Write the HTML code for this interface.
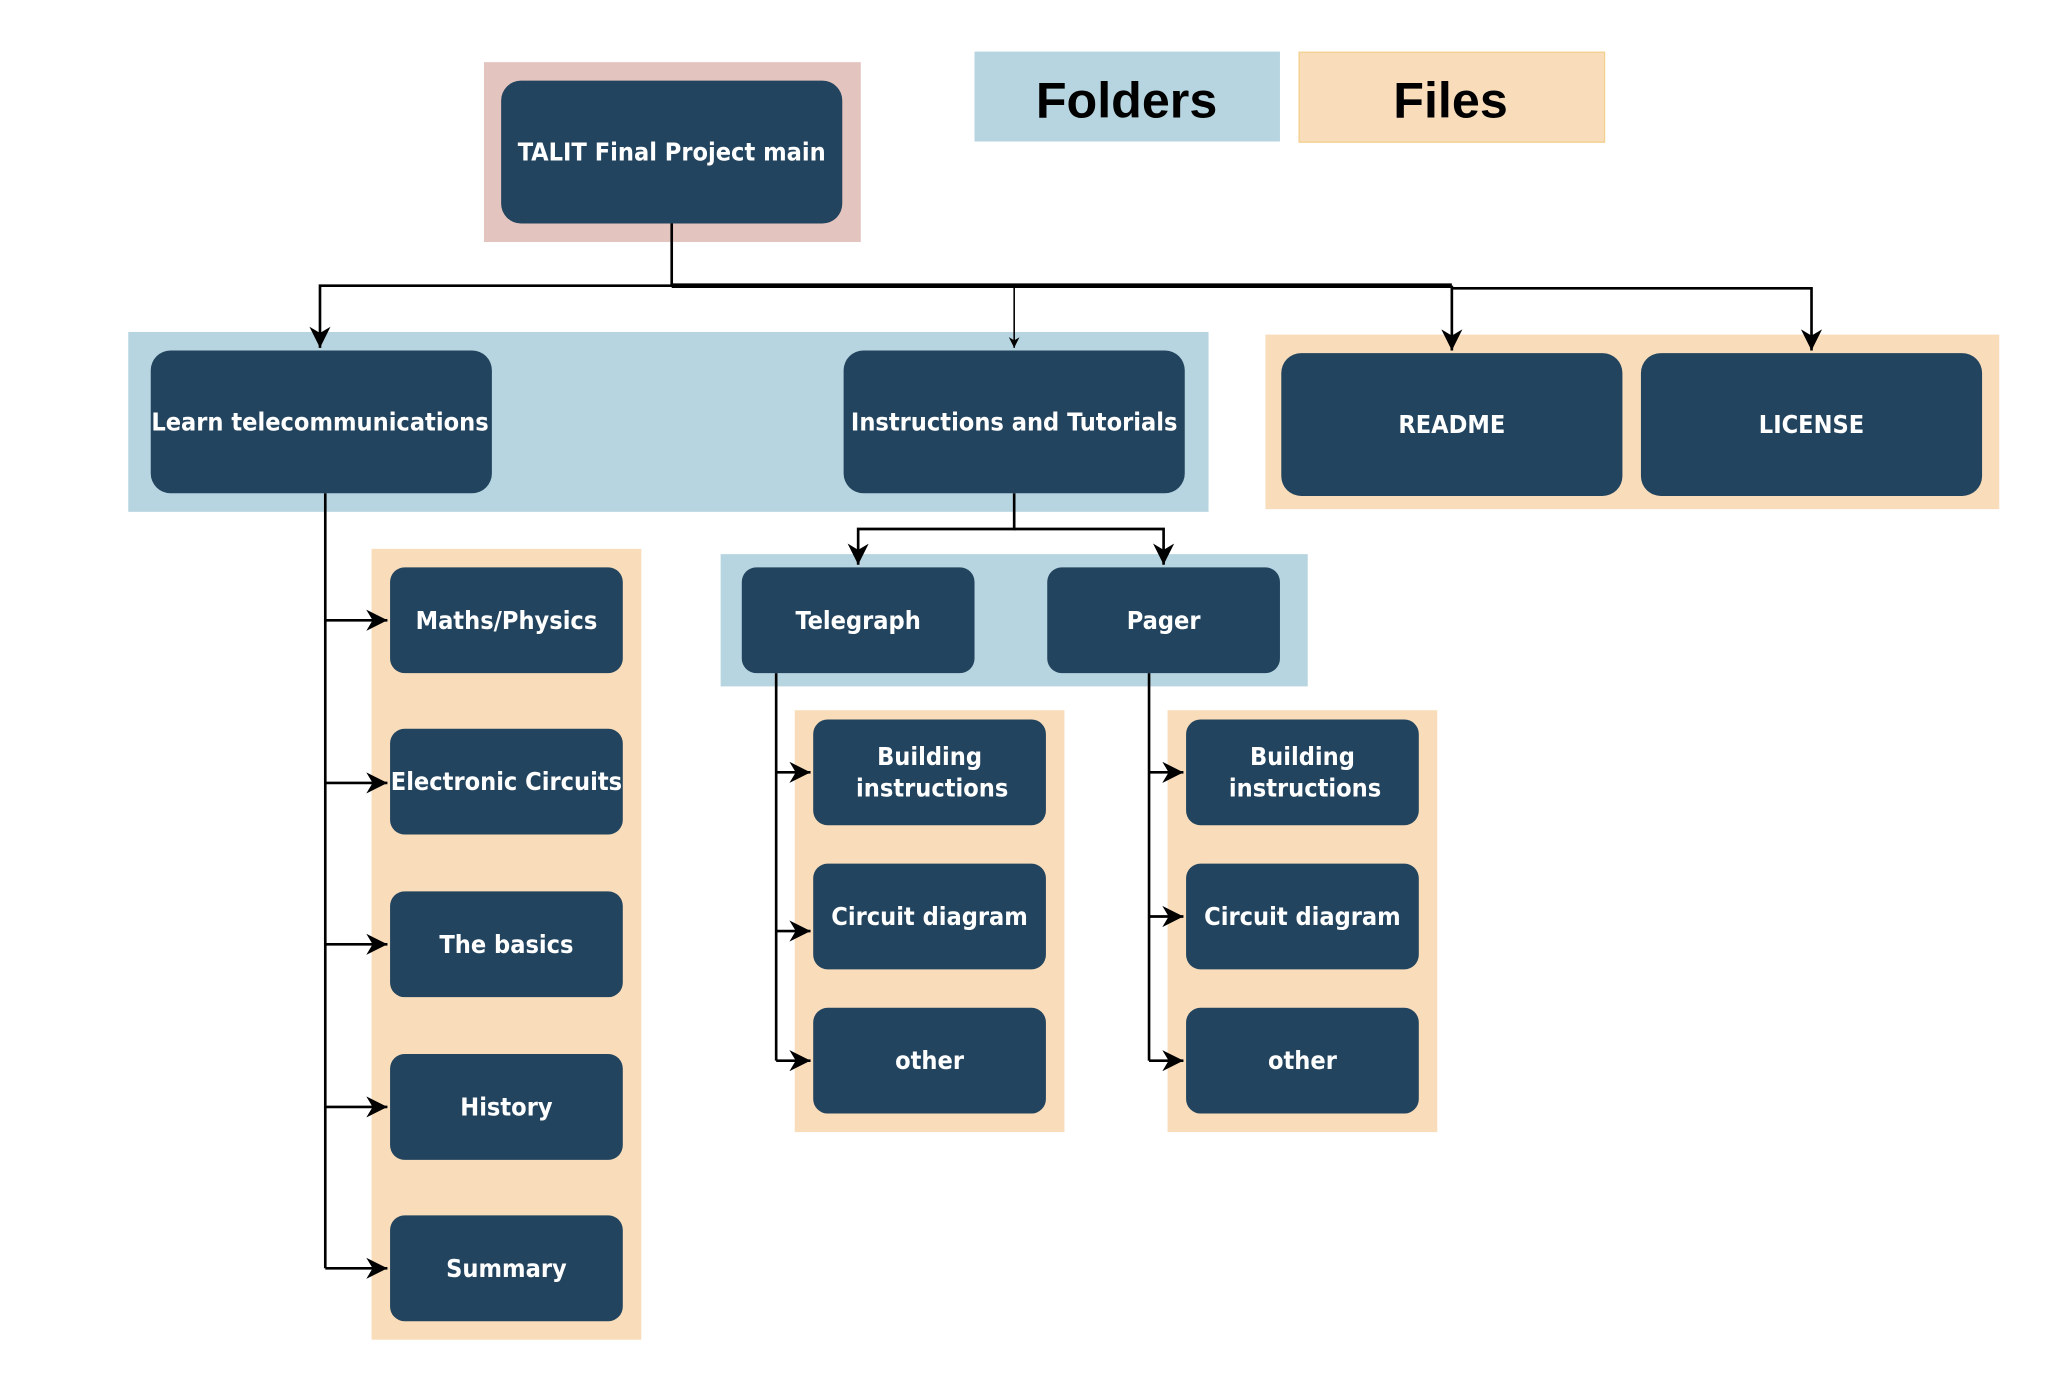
<!DOCTYPE html>
<html><head><meta charset="utf-8"><style>
html,body{margin:0;padding:0;background:#fff}
svg{display:block}
text{font-family:"DejaVu Sans Condensed","Liberation Sans",sans-serif;font-weight:bold;fill:#fff;font-size:19px;text-anchor:middle;dominant-baseline:central}
.lg{fill:#000;font-family:"Liberation Sans",sans-serif;font-size:38px}
</style></head><body>
<svg width="2072" height="1386" viewBox="0 0 1567 1048" preserveAspectRatio="none" xmlns="http://www.w3.org/2000/svg">
<defs>
<marker id="a" viewBox="0 0 10 10" refX="10" refY="5" markerWidth="8" markerHeight="8" orient="auto" markerUnits="userSpaceOnUse"><path d="M0,0 L10,5 L0,10 L3,5 z" fill="#000"/></marker>
<marker id="b" viewBox="0 0 10 10" refX="10" refY="5" markerWidth="16" markerHeight="16" orient="auto" markerUnits="userSpaceOnUse"><path d="M0,0 L10,5 L0,10 L3,5 z" fill="#000"/></marker>
</defs>
<rect x="366" y="47" width="285" height="136" fill="#e4c4bf"/>
<rect x="737" y="39" width="231" height="68" fill="#b7d5e0"/>
<rect x="982.5" y="39.5" width="231" height="68" fill="#f9ddbb" stroke="#f3d08e" stroke-width="1"/>
<text class="lg" x="852" y="76">Folders</text>
<text class="lg" x="1097" y="76">Files</text>
<rect x="97" y="251" width="817" height="136" fill="#b7d5e0"/>
<rect x="957" y="253" width="555" height="132" fill="#f9ddbb"/>
<rect x="281" y="415" width="204" height="598" fill="#f9ddbb"/>
<rect x="545" y="419" width="444" height="100" fill="#b7d5e0"/>
<rect x="601" y="537" width="204" height="319" fill="#f9ddbb"/>
<rect x="883" y="537" width="204" height="319" fill="#f9ddbb"/>
<g stroke="#000" fill="none" stroke-width="2">
<path d="M508,169 V216 H242 V263" marker-end="url(#b)"/>
<path d="M508,216 H1098" stroke-width="3.5"/>
<path d="M1098,216 V265" marker-end="url(#b)"/>
<path d="M1098,218 H1370 V265" marker-end="url(#b)"/>
<path d="M767,216 V263" stroke-width="1.2" marker-end="url(#a)"/>
<path d="M246,373 V959"/>
<path d="M246,469 H293" marker-end="url(#b)"/>
<path d="M246,592 H293" marker-end="url(#b)"/>
<path d="M246,714 H293" marker-end="url(#b)"/>
<path d="M246,837 H293" marker-end="url(#b)"/>
<path d="M246,959 H293" marker-end="url(#b)"/>
<path d="M767,373 V400 H649 V427" marker-end="url(#b)"/>
<path d="M767,400 H880 V427" marker-end="url(#b)"/>
<path d="M587,509 V802"/>
<path d="M587,584 H613" marker-end="url(#b)"/>
<path d="M587,704 H613" marker-end="url(#b)"/>
<path d="M587,802 H613" marker-end="url(#b)"/>
<path d="M869,509 V802"/>
<path d="M869,584 H895" marker-end="url(#b)"/>
<path d="M869,693 H895" marker-end="url(#b)"/>
<path d="M869,802 H895" marker-end="url(#b)"/>
</g>
<g fill="#23445e">
<rect x="379" y="61" width="258" height="108" rx="15"/>
<rect x="114" y="265" width="258" height="108" rx="15"/>
<rect x="638" y="265" width="258" height="108" rx="15"/>
<rect x="969" y="267" width="258" height="108" rx="15"/>
<rect x="1241" y="267" width="258" height="108" rx="15"/>
<rect x="295" y="429" width="176" height="80" rx="11"/>
<rect x="295" y="551" width="176" height="80" rx="11"/>
<rect x="295" y="674" width="176" height="80" rx="11"/>
<rect x="295" y="797" width="176" height="80" rx="11"/>
<rect x="295" y="919" width="176" height="80" rx="11"/>
<rect x="561" y="429" width="176" height="80" rx="11"/>
<rect x="792" y="429" width="176" height="80" rx="11"/>
<rect x="615" y="544" width="176" height="80" rx="11"/>
<rect x="615" y="653" width="176" height="80" rx="11"/>
<rect x="615" y="762" width="176" height="80" rx="11"/>
<rect x="897" y="544" width="176" height="80" rx="11"/>
<rect x="897" y="653" width="176" height="80" rx="11"/>
<rect x="897" y="762" width="176" height="80" rx="11"/>
</g>
<text x="508" y="115">TALIT Final Project main</text>
<text x="242" y="319">Learn telecommunications</text>
<text x="767" y="319">Instructions and Tutorials</text>
<text x="1098" y="321">README</text>
<text x="1370" y="321">LICENSE</text>
<text x="383" y="469">Maths/Physics</text>
<text x="383" y="591">Electronic Circuits</text>
<text x="383" y="714">The basics</text>
<text x="383" y="837">History</text>
<text x="383" y="959">Summary</text>
<text x="649" y="469">Telegraph</text>
<text x="880" y="469">Pager</text>
<text x="703" y="572">Building</text>
<text x="705" y="596">instructions</text>
<text x="703" y="693">Circuit diagram</text>
<text x="703" y="802">other</text>
<text x="985" y="572">Building</text>
<text x="987" y="596">instructions</text>
<text x="985" y="693">Circuit diagram</text>
<text x="985" y="802">other</text>
</svg>
</body></html>
